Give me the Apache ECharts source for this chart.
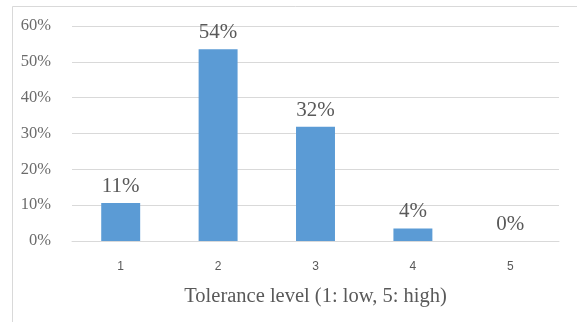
<!DOCTYPE html>
<html>
<head>
<meta charset="utf-8">
<script src="https://cdn.jsdelivr.net/npm/echarts@6/dist/echarts.min.js"></script>
<style>html,body{margin:0;padding:0;background:#fff;}#c{width:577px;height:322px;}</style>
</head>
<body>
<div id="c"></div>
<script>
const categories = ['1', '2', '3', '4', '5'];
const values = [10.6, 53.5, 31.9, 3.5, 0];
const yTicks = { min: 0, max: 60, interval: 10 };
const xAxisName = 'Tolerance level (1: low, 5: high)';

const chart = echarts.init(document.getElementById('c'), null, { renderer: 'canvas' });
chart.setOption({
  animation: false,
  backgroundColor: '#ffffff',
  graphic: [{
    type: 'rect', silent: true, z: -1,
    shape: { x: 12.5, y: 6.5, width: 600, height: 400 },
    style: { fill: 'none', stroke: '#d9d9d9', lineWidth: 1 }
  }],
  grid: { left: 72, right: 18, top: 26, bottom: 81 },
  xAxis: {
    type: 'category',
    data: categories,
    axisLine: { show: true, lineStyle: { color: '#d9d9d9' } },
    axisTick: { show: false },
    axisLabel: { color: '#595959', fontFamily: 'Liberation Sans', fontSize: 12, margin: 20 },
    name: xAxisName,
    nameLocation: 'middle',
    nameGap: 45,
    nameTextStyle: { color: '#595959', fontFamily: 'Liberation Serif', fontSize: 20.5 }
  },
  yAxis: {
    type: 'value',
    min: yTicks.min, max: yTicks.max, interval: yTicks.interval,
    axisLine: { show: false },
    axisTick: { show: false },
    splitLine: { lineStyle: { color: '#d9d9d9', width: 1 } },
    axisLabel: { color: '#6b6b6b', fontFamily: 'Liberation Serif', fontSize: 16.5, margin: 21, formatter: v => v + '%' }
  },
  series: [{
    type: 'bar',
    data: values,
    barWidth: '40%',
    itemStyle: { color: '#5b9bd5' },
    label: {
      show: true, position: 'top', distance: 6,
      color: '#595959', fontFamily: 'Liberation Serif', fontSize: 21,
      formatter: p => Math.round(p.value) + '%'
    }
  }]
});
</script>
</body>
</html>
